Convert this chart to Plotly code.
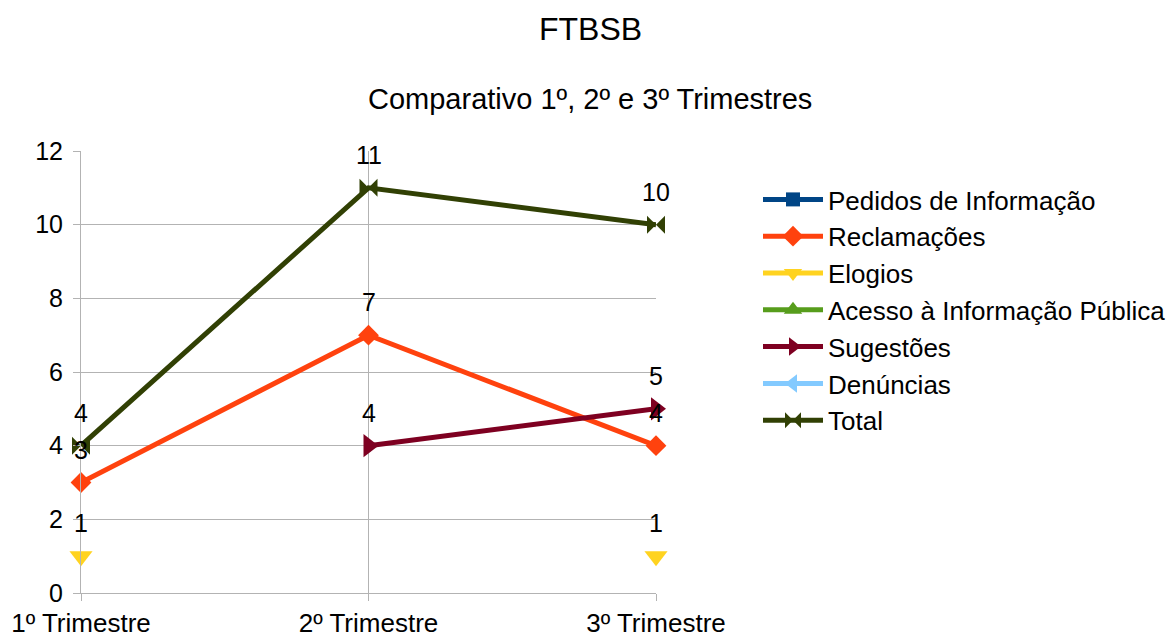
import plotly.graph_objects as go

categories = ["1º Trimestre", "2º Trimestre", "3º Trimestre"]
series_names = ["Pedidos de Informação", "Reclamações", "Elogios",
                "Acesso à Informação Pública", "Sugestões", "Denúncias", "Total"]
pedidos = [None, None, None]
reclamacoes = [3, 7, 4]
elogios = [1, None, 1]
acesso = [None, None, None]
sugestoes = [None, 4, 5]
denuncias = [None, None, None]
total = [4, 11, 10]

series_values = [pedidos, reclamacoes, elogios, acesso, sugestoes, denuncias, total]
colors = ["#004586", "#ff420e", "#ffd320", "#579d1c", "#7e0021", "#83caff", "#314004"]
symbols = ["square", "diamond", "triangle-down", "triangle-up",
           "triangle-right", "triangle-left", "bowtie"]
msizes = [14, 16, 20, 20, 20, 20, 18]

FONT = "Liberation Sans, Arial, sans-serif"
L, R, T, B = 81, 656, 151, 593
PW, PH = R - L, B - T

fig = go.Figure()
annotations = []
for name, vals, col, sym, ms in zip(series_names, series_values, colors, symbols, msizes):
    fig.add_trace(go.Scatter(
        x=categories, y=vals, name=name, mode="lines+markers",
        line=dict(color=col, width=5),
        marker=dict(symbol=sym, size=ms, color=col),
        connectgaps=False, cliponaxis=False,
    ))
    for c, v in zip(categories, vals):
        if v is not None:
            annotations.append(dict(x=c, y=v, xref="x", yref="y", text=str(v),
                                    showarrow=False, yshift=33,
                                    font=dict(size=25, color="#000000", family=FONT)))

annotations.append(dict(text="FTBSB", x=(590 - L) / PW, y=(B - 29) / PH,
                        xref="x domain", yref="y domain", xanchor="center", yanchor="middle",
                        showarrow=False, font=dict(size=32, color="#000000", family=FONT)))
annotations.append(dict(text="Comparativo 1º, 2º e 3º Trimestres", x=(590 - L) / PW,
                        y=(B - 99) / PH, xref="x domain", yref="y domain",
                        xanchor="center", yanchor="middle", showarrow=False,
                        font=dict(size=29, color="#000000", family=FONT)))

fig.update_layout(
    width=1174, height=639,
    margin=dict(l=L, r=1174 - R, t=T, b=639 - B, autoexpand=False),
    paper_bgcolor="white", plot_bgcolor="white",
    font=dict(family=FONT, size=25, color="#000000"),
    showlegend=True,
    legend=dict(x=758/1174, y=1-176/639, xref="container", yref="container",
                xanchor="left", yanchor="top", font=dict(size=26, family=FONT),
                itemwidth=60, bgcolor="rgba(0,0,0,0)"),
    annotations=annotations,
    xaxis=dict(type="category", range=[0, 2], showgrid=True, gridcolor="#b3b3b3",
               gridwidth=1, showline=True, linecolor="#b3b3b3", linewidth=1,
               ticks="outside", ticklen=7, tickcolor="#b3b3b3", automargin=False,
               tickfont=dict(size=26, family=FONT), zeroline=False),
    yaxis=dict(range=[0, 12], dtick=2, showgrid=True, gridcolor="#b3b3b3",
               gridwidth=1, showline=True, linecolor="#b3b3b3", linewidth=1,
               ticks="outside", ticklen=7, tickcolor="#b3b3b3", automargin=False,
               ticklabelstandoff=5,
               tickfont=dict(size=25, family=FONT), zeroline=False),
)

fig.write_html("out.html", config={"displayModeBar": False},
               post_script="document.body.style.margin='0';document.body.style.overflow='hidden';")
